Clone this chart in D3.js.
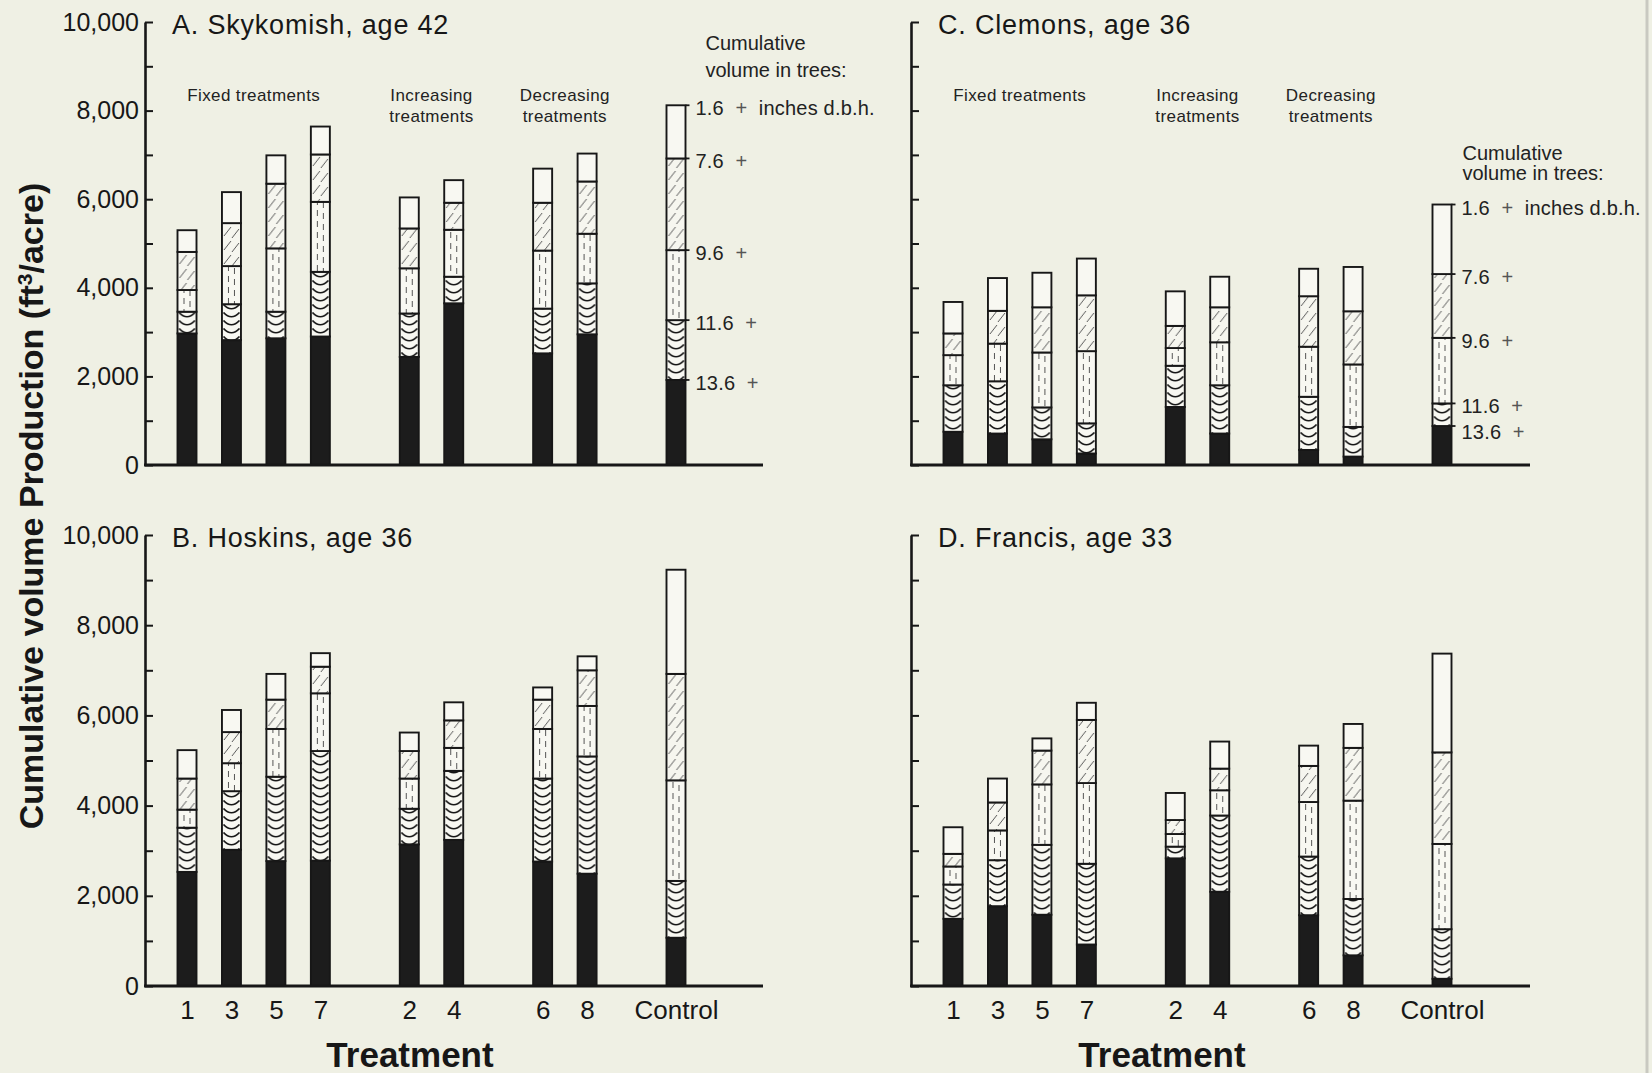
<!DOCTYPE html>
<html>
<head>
<meta charset="utf-8">
<script src="https://cdn.jsdelivr.net/npm/d3@7/dist/d3.min.js"></script>
<style>
  body { margin: 0; background: #eff0e4; }
  svg { display: block; font-family: "Liberation Sans", Arial, sans-serif; }
</style>
</head>
<body>
<svg id="chart"></svg>
<script>

// treatments, in the order they stand on the x axis
const treatments = ['1', '3', '5', '7', '2', '4', '6', '8', 'Control'];
const fixedTreatments = ['1', '3', '5', '7'];
const increasingTreatments = ['2', '4'];
const decreasingTreatments = ['6', '8'];
const controlTreatments = ['Control'];
const groupLabels = [['Fixed treatments'], ['Increasing', 'treatments'], ['Decreasing', 'treatments']];

// d.b.h. classes (inches), bottom segment first
const dbhClasses = ['13.6', '11.6', '9.6', '7.6', '1.6'];

const yTickValues = [0, 1000, 2000, 3000, 4000, 5000, 6000, 7000, 8000, 9000, 10000];
const yLabelValues = [0, 2000, 4000, 6000, 8000, 10000];

// cumulative volume (ft3/acre) in trees of 13.6+, 11.6+, 9.6+, 7.6+ and 1.6+ inches, one row per treatment
const skykomish = [
    [2970, 3460, 3950, 4810, 5300],
    [2820, 3630, 4490, 5460, 6160],
    [2860, 3460, 4890, 6350, 6990],
    [2900, 4360, 5940, 7010, 7640],
    [2440, 3420, 4440, 5340, 6040],
    [3650, 4250, 5310, 5920, 6430],
    [2520, 3530, 4840, 5920, 6690],
    [2950, 4100, 5220, 6400, 7030],
    [1920, 3270, 4850, 6920, 8120]
];
const hoskins = [
    [2530, 3510, 3910, 4600, 5230],
    [3020, 4320, 4940, 5630, 6120],
    [2770, 4640, 5700, 6350, 6920],
    [2780, 5210, 6490, 7080, 7380],
    [3140, 3930, 4600, 5210, 5620],
    [3240, 4770, 5280, 5890, 6290],
    [2760, 4600, 5700, 6350, 6620],
    [2490, 5090, 6210, 7000, 7310],
    [1070, 2330, 4560, 6920, 9230]
];
const clemons = [
    [750, 1800, 2480, 2970, 3680],
    [710, 1890, 2740, 3480, 4220],
    [580, 1300, 2540, 3560, 4340],
    [260, 940, 2570, 3830, 4660],
    [1310, 2240, 2640, 3140, 3920],
    [710, 1800, 2770, 3560, 4250],
    [340, 1540, 2670, 3810, 4430],
    [190, 860, 2270, 3470, 4470],
    [880, 1390, 2870, 4310, 5880]
];
const francis = [
    [1490, 2250, 2650, 2930, 3520],
    [1770, 2790, 3450, 4070, 4600],
    [1580, 3130, 4470, 5220, 5490],
    [920, 2710, 4500, 5900, 6280],
    [2830, 3090, 3370, 3680, 4280],
    [2090, 3780, 4340, 4820, 5420],
    [1570, 2870, 4080, 4880, 5330],
    [680, 1930, 4110, 5280, 5810],
    [160, 1260, 3150, 5180, 7370]
];

const W = 1652, H = 1073;
const barWidth = 19;
const ink = '#171717';

const svg = d3.select('#chart').attr('width', W).attr('height', H);
svg.append('rect').attr('width', W).attr('height', H).attr('fill', '#eff0e4');

// fill patterns, one tile per bar width (rects are drawn in bar-local coords)
const defs = svg.append('defs');
const wavy = defs.append('pattern').attr('id', 'wavy')
    .attr('patternUnits', 'userSpaceOnUse').attr('width', barWidth).attr('height', 8);
wavy.append('rect').attr('width', barWidth).attr('height', 8).attr('fill', '#f8f8f2');
wavy.append('path').attr('d', 'M1.5,0.5 Q9.5,9 17.5,0.5')
    .attr('fill', 'none').attr('stroke', ink).attr('stroke-width', 1.7);

const dashed = defs.append('pattern').attr('id', 'dashed')
    .attr('patternUnits', 'userSpaceOnUse').attr('width', barWidth).attr('height', 11);
dashed.append('rect').attr('width', barWidth).attr('height', 11).attr('fill', '#f8f8f2');
dashed.append('path').attr('d', 'M6.5,1 V7 M12.5,4 V10')
    .attr('stroke', '#555').attr('stroke-width', 1);

const hatch = defs.append('pattern').attr('id', 'hatch')
    .attr('patternUnits', 'userSpaceOnUse').attr('width', barWidth).attr('height', 14);
hatch.append('rect').attr('width', barWidth).attr('height', 14).attr('fill', '#f6f6ef');
hatch.append('path').attr('d', 'M2,12 L9,3 M10,14 L17,5')
    .attr('stroke', '#5a5a5a').attr('stroke-width', 1);

const segmentFills = ['#1c1c1c', 'url(#wavy)', 'url(#dashed)', 'url(#hatch)', '#f8f8f2'];

// slot of each treatment along the axis, with one empty slot between groups
const slotOf = new Map();
let slot = 0;
[fixedTreatments, increasingTreatments, decreasingTreatments, controlTreatments].forEach(g => {
    g.forEach(t => slotOf.set(t, slot++));
    slot++;
});
const lastSlot = slotOf.get('Control');

class Panel {

    constructor(_config, data) {
        this.config = {
            title: _config.title,
            axisX: _config.axisX,
            axisEnd: _config.axisEnd,
            baseline: _config.baseline,
            top: _config.top,
            yLabels: _config.yLabels || false,
            xLabels: _config.xLabels || false,
            groups: _config.groups || false,
            legend: _config.legend || false,
            noteDx: _config.noteDx || 15,
            noteOffsets: _config.noteOffsets || [-55, -32],
            xTitleDx: _config.xTitleDx || 258
        };
        this.data = data;
        this.initVis();
    }

    initVis() {
        let vis = this;
        const c = vis.config;

        vis.chart = svg.append('g');

        vis.xScale = d3.scaleLinear()
            .domain([0, lastSlot])
            .range([c.axisX + 42, c.axisX + 531]);

        vis.yScale = d3.scaleLinear()
            .domain([0, 10000])
            .range([c.baseline, c.top]);

        // stacked cumulative bars
        const bars = vis.chart.selectAll('.bar')
            .data(treatments.map((t, i) => ({ t: t, values: vis.data[i] })))
            .join('g')
            .attr('class', 'bar')
            .attr('transform', d => `translate(${vis.xScale(slotOf.get(d.t)) - barWidth / 2},0)`);

        bars.selectAll('rect')
            .data(d => d3.pairs([0].concat(d.values)).map((p, k) => ({ lo: p[0], hi: p[1], k: k })))
            .join('rect')
            .attr('x', 0)
            .attr('width', barWidth)
            .attr('y', d => vis.yScale(d.hi))
            .attr('height', d => vis.yScale(d.lo) - vis.yScale(d.hi))
            .attr('fill', d => segmentFills[d.k])
            .attr('stroke', ink)
            .attr('stroke-width', 1.9);

        // y axis, ticks pointing inward
        const yAxis = d3.axisLeft(vis.yScale)
            .tickValues(yTickValues)
            .tickSize(-8)
            .tickSizeOuter(0)
            .tickPadding(6)
            .tickFormat(d => c.yLabels && yLabelValues.includes(d) ? d3.format(',')(d) : '');

        const yAxisG = vis.chart.append('g')
            .attr('transform', `translate(${c.axisX},0)`)
            .call(yAxis);
        yAxisG.select('.domain').attr('stroke', ink).attr('stroke-width', 2.6);
        yAxisG.selectAll('.tick line').attr('stroke', ink).attr('stroke-width', 2);
        yAxisG.selectAll('.tick text')
            .attr('font-family', '"Liberation Sans", Arial, sans-serif')
            .attr('font-size', 25)
            .attr('fill', ink);

        // x axis line
        vis.chart.append('line')
            .attr('x1', c.axisX - 1).attr('x2', c.axisEnd)
            .attr('y1', c.baseline).attr('y2', c.baseline)
            .attr('stroke', ink).attr('stroke-width', 2.8);

        if (c.xLabels) {
            const xAxis = d3.axisBottom(vis.xScale)
                .tickValues(treatments.map(t => slotOf.get(t)))
                .tickFormat((d, i) => treatments[i])
                .tickSize(0)
                .tickPadding(15);
            const xAxisG = vis.chart.append('g')
                .attr('transform', `translate(0,${c.baseline})`)
                .call(xAxis);
            xAxisG.select('.domain').remove();
            xAxisG.selectAll('.tick text')
                .attr('font-family', '"Liberation Sans", Arial, sans-serif')
                .attr('font-size', 26)
                .attr('fill', ink);

            vis.chart.append('text')
                .attr('x', c.axisX + c.xTitleDx)
                .attr('y', c.baseline + 81)
                .attr('text-anchor', 'middle')
                .attr('font-size', 35)
                .attr('font-weight', 'bold')
                .attr('fill', ink)
                .text('Treatment');
        }

        // panel title
        vis.chart.append('text')
            .attr('x', c.axisX + 27)
            .attr('y', c.top + 12)
            .attr('font-size', 27)
            .attr('letter-spacing', 0.8)
            .attr('fill', ink)
            .text(c.title);

        if (c.groups) {
            const groupMembers = [fixedTreatments, increasingTreatments, decreasingTreatments];
            groupMembers.forEach((members, gi) => {
                const cx = d3.mean(members, t => vis.xScale(slotOf.get(t)));
                vis.chart.append('text')
                    .attr('text-anchor', 'middle')
                    .attr('font-size', 17)
                    .attr('letter-spacing', 0.4)
                    .attr('fill', '#222')
                    .selectAll('tspan')
                    .data(groupLabels[gi])
                    .join('tspan')
                    .attr('x', cx)
                    .attr('y', (d, i) => c.top + 79 + i * 21)
                    .text(d => d);
            });
        }

        if (c.legend) vis.drawLegend();
    }

    drawLegend() {
        let vis = this;
        const c = vis.config;
        const control = vis.data[treatments.indexOf('Control')];
        const right = vis.xScale(slotOf.get('Control')) + barWidth / 2;

        // short ticks on the control bar's boundaries
        vis.chart.selectAll('.legend-tick')
            .data(control)
            .join('line')
            .attr('class', 'legend-tick')
            .attr('x1', right).attr('x2', right + 4)
            .attr('y1', d => vis.yScale(d)).attr('y2', d => vis.yScale(d))
            .attr('stroke', ink).attr('stroke-width', 1.8);

        // label positions from top down, kept apart
        const items = dbhClasses.map((cls, i) => ({ cls: cls, y: vis.yScale(control[i]) + 3 })).reverse();
        items.forEach((d, i) => {
            if (i > 0) d.y = Math.max(d.y, items[i - 1].y + 26);
        });

        const labels = vis.chart.selectAll('.legend-label')
            .data(items)
            .join('text')
            .attr('class', 'legend-label')
            .attr('x', right + 10)
            .attr('y', d => d.y)
            .attr('dy', '0.35em')
            .attr('font-size', 20)
            .attr('letter-spacing', 0.2)
            .attr('fill', '#222')
            .style('white-space', 'pre');
        labels.append('tspan').text(d => d.cls + '  ');
        labels.append('tspan').attr('fill', '#555').text('+');
        labels.filter((d, i) => i === 0).append('tspan').text('  inches d.b.h.');

        const topY = vis.yScale(control[control.length - 1]);
        vis.chart.append('text')
            .attr('font-size', 20)
            .attr('fill', '#222')
            .selectAll('tspan')
            .data(['Cumulative', 'volume in trees:'])
            .join('tspan')
            .attr('x', right + c.noteDx)
            .attr('y', (d, i) => topY + c.noteOffsets[i])
            .attr('dy', '0.35em')
            .text(d => d);
    }
}

new Panel({ title: 'A. Skykomish, age 42', axisX: 145, axisEnd: 763, baseline: 465, top: 22,
    yLabels: true, groups: true, legend: true, noteDx: 20, noteOffsets: [-62, -35] }, skykomish);
new Panel({ title: 'B. Hoskins, age 36', axisX: 145, axisEnd: 763, baseline: 986, top: 535,
    yLabels: true, xLabels: true, xTitleDx: 265 }, hoskins);
new Panel({ title: 'C. Clemons, age 36', axisX: 911, axisEnd: 1530, baseline: 465, top: 22,
    groups: true, legend: true, noteDx: 11, noteOffsets: [-52, -32] }, clemons);
new Panel({ title: 'D. Francis, age 33', axisX: 911, axisEnd: 1530, baseline: 986, top: 535,
    xLabels: true, xTitleDx: 251 }, francis);

// shared y axis title
const yTitle = svg.append('text')
    .attr('transform', 'translate(43,506) rotate(-90)')
    .attr('text-anchor', 'middle')
    .attr('font-size', 34)
    .attr('font-weight', 'bold')
    .attr('fill', ink);
yTitle.append('tspan').text('Cumulative volume Production (ft');
yTitle.append('tspan').attr('baseline-shift', 'super').attr('font-size', 21).text('3');
yTitle.append('tspan').text('/acre)');

// page edge of the scan
svg.append('line')
    .attr('x1', 1647).attr('x2', 1647).attr('y1', 0).attr('y2', H)
    .attr('stroke', '#c9c9c1').attr('stroke-width', 3);

</script>
</body>
</html>
